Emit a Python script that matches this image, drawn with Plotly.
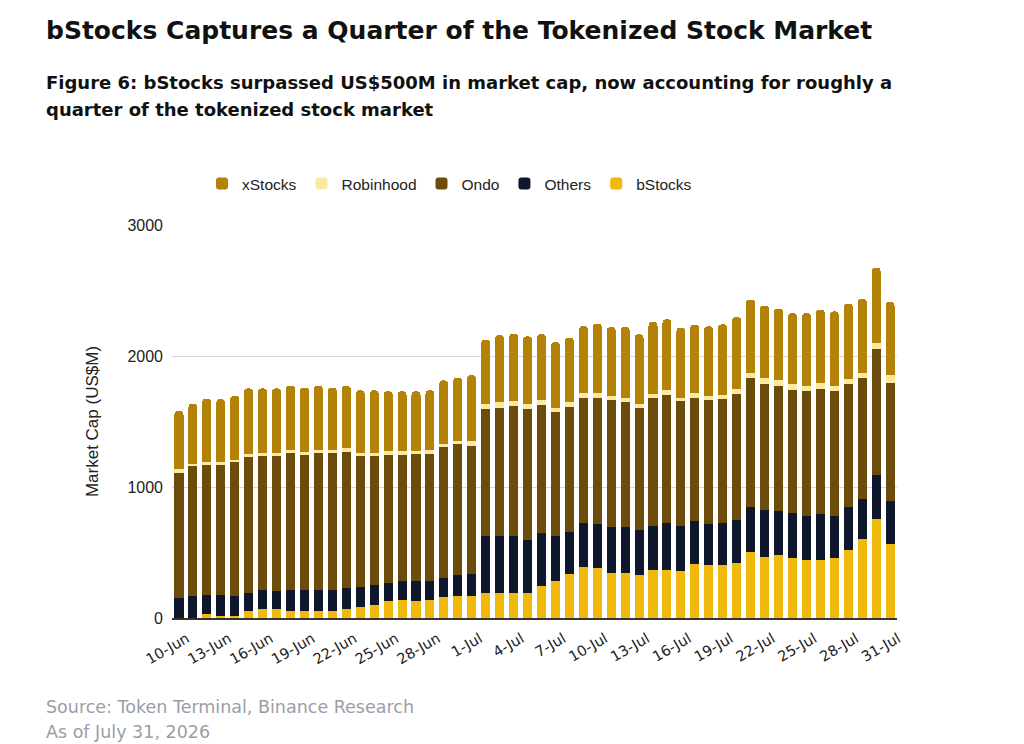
import plotly.graph_objects as go

# Data (US$M)
dates = [
    "10-Jun", "11-Jun", "12-Jun", "13-Jun", "14-Jun", "15-Jun", "16-Jun", "17-Jun",
    "18-Jun", "19-Jun", "20-Jun", "21-Jun", "22-Jun", "23-Jun", "24-Jun", "25-Jun",
    "26-Jun", "27-Jun", "28-Jun", "29-Jun", "30-Jun", "1-Jul", "2-Jul", "3-Jul",
    "4-Jul", "5-Jul", "6-Jul", "7-Jul", "8-Jul", "9-Jul", "10-Jul", "11-Jul",
    "12-Jul", "13-Jul", "14-Jul", "15-Jul", "16-Jul", "17-Jul", "18-Jul", "19-Jul",
    "20-Jul", "21-Jul", "22-Jul", "23-Jul", "24-Jul", "25-Jul", "26-Jul", "27-Jul",
    "28-Jul", "29-Jul", "30-Jul", "31-Jul",
]
tick_labels = [
    "10-Jun", "13-Jun", "16-Jun", "19-Jun", "22-Jun", "25-Jun", "28-Jun",
    "1-Jul", "4-Jul", "7-Jul", "10-Jul", "13-Jul", "16-Jul", "19-Jul",
    "22-Jul", "25-Jul", "28-Jul", "31-Jul",
]

bstocks = [0, 0, 28, 18, 15, 51, 66, 66, 56, 56, 56, 56, 69, 84, 102, 127, 135, 127,
           135, 160, 171, 171, 191, 191, 191, 191, 247, 283, 334, 389, 382, 347, 347,
           326, 369, 369, 359, 410, 402, 402, 423, 502, 466, 481, 461, 446, 446, 461,
           517, 601, 759, 568]
others = [156, 166, 150, 160, 151, 143, 148, 138, 155, 155, 155, 155, 157, 153, 148,
          140, 147, 155, 147, 145, 155, 163, 433, 433, 433, 402, 402, 341, 323, 336,
          333, 348, 348, 343, 331, 356, 341, 328, 313, 323, 323, 345, 361, 334, 341,
          333, 346, 318, 330, 310, 330, 325]
ondo = [954, 992, 993, 993, 1023, 1033, 1026, 1033, 1052, 1036, 1052, 1049, 1044, 1003,
        990, 980, 965, 968, 973, 1000, 1000, 982, 974, 982, 994, 1002, 977, 949, 955,
        954, 964, 967, 957, 934, 982, 980, 954, 944, 947, 950, 962, 983, 957, 956, 936,
        952, 959, 952, 937, 919, 962, 901]
robinhood = [25, 21, 20, 20, 20, 23, 17, 20, 22, 20, 19, 20, 24, 22, 22, 26, 26, 23,
             30, 21, 23, 35, 33, 40, 36, 35, 36, 30, 40, 39, 39, 33, 30, 34, 31, 33, 25,
             36, 35, 30, 43, 43, 46, 44, 46, 43, 43, 43, 43, 43, 48, 59]
xstocks = [445, 458, 484, 479, 486, 503, 496, 496, 489, 492, 492, 479, 478, 476, 476,
           458, 458, 458, 453, 488, 486, 502, 494, 514, 517, 520, 504, 504, 488, 509,
           529, 526, 539, 529, 547, 542, 538, 522, 530, 537, 547, 558, 555, 547, 544,
           554, 560, 567, 573, 565, 576, 559]

series = [
    ("bStocks", bstocks, "#F0B90B"),
    ("Others", others, "#0E172B"),
    ("Ondo", ondo, "#6B4C0A"),
    ("Robinhood", robinhood, "#FBE9A0"),
    ("xStocks", xstocks, "#B38207"),
]

fig = go.Figure()
for name, vals, color in series:
    fig.add_trace(go.Bar(
        name=name,
        x=dates,
        y=vals,
        marker_color=color,
        marker_line_width=0,
    ))

L, R, T, B = 172, 127, 225, 126
W, H = 1024, 744
pw, ph = W - L - R, H - T - B


def px(x):
    return (x - L) / pw


def py(y):
    return (H - B - y) / ph


head_font = "DejaVu Sans, Open Sans, sans-serif"

fig.update_layout(
    width=W,
    height=H,
    margin=dict(l=L, r=R, t=T, b=B),
    paper_bgcolor="white",
    plot_bgcolor="white",
    barmode="stack",
    bargap=0.35,
    barcornerradius=4,
    font=dict(family="Liberation Sans, Arial, sans-serif", color="#222222"),
    title=dict(
        text="<b>bStocks Captures a Quarter of the Tokenized Stock Market</b>",
        font=dict(family=head_font, size=25, color="#111111"),
        xref="container", yref="container",
        x=46 / W, xanchor="left",
        y=1 - 30 / H, yanchor="middle",
    ),
    legend=dict(
        orientation="h",
        traceorder="reversed",
        x=px(202), xanchor="left",
        y=py(184), yanchor="middle",
        font=dict(size=15.5, color="#222222"),
    ),
    showlegend=True,
)

# subtitle, one annotation per line
sub_lines = [
    "Figure 6: bStocks surpassed US$500M in market cap, now accounting for roughly a",
    "quarter of the tokenized stock market",
]
for i, line in enumerate(sub_lines):
    fig.add_annotation(
        text=f"<b>{line}</b>",
        xref="paper", yref="paper", x=px(44), y=py(82 + 27 * i),
        xanchor="left", yanchor="middle", align="left", showarrow=False,
        font=dict(family=head_font, size=18, color="#111111"),
    )

src_lines = ["Source: Token Terminal, Binance Research", "As of July 31, 2026"]
for i, line in enumerate(src_lines):
    fig.add_annotation(
        text=line,
        xref="paper", yref="paper", x=px(44), y=py(707 + 25 * i),
        xanchor="left", yanchor="middle", align="left", showarrow=False,
        font=dict(family=head_font, size=17.5, color="#9A9EA6"),
    )

fig.update_xaxes(
    type="category",
    tickmode="array",
    tickvals=tick_labels,
    ticktext=tick_labels,
    tickangle=-30,
    tickfont=dict(family=head_font, size=14.5, color="#222222"),
    ticklabelshift=8,
    ticklabelstandoff=5,
    showline=True,
    linecolor="#333333",
    linewidth=1.5,
    showgrid=False,
    ticks="",
)
fig.update_yaxes(
    range=[0, 3000],
    tickvals=[0, 1000, 2000, 3000],
    showgrid=True,
    gridcolor="#D9D9D9",
    gridwidth=1,
    zeroline=False,
    tickfont=dict(size=16, color="#222222"),
    ticklabelstandoff=8,
    title=dict(text="Market Cap (US$M)", font=dict(size=17, color="#222222"), standoff=24),
)

fig.write_html(
    "out.html",
    config={"displayModeBar": False},
    post_script="document.body.style.margin='0px';",
)
